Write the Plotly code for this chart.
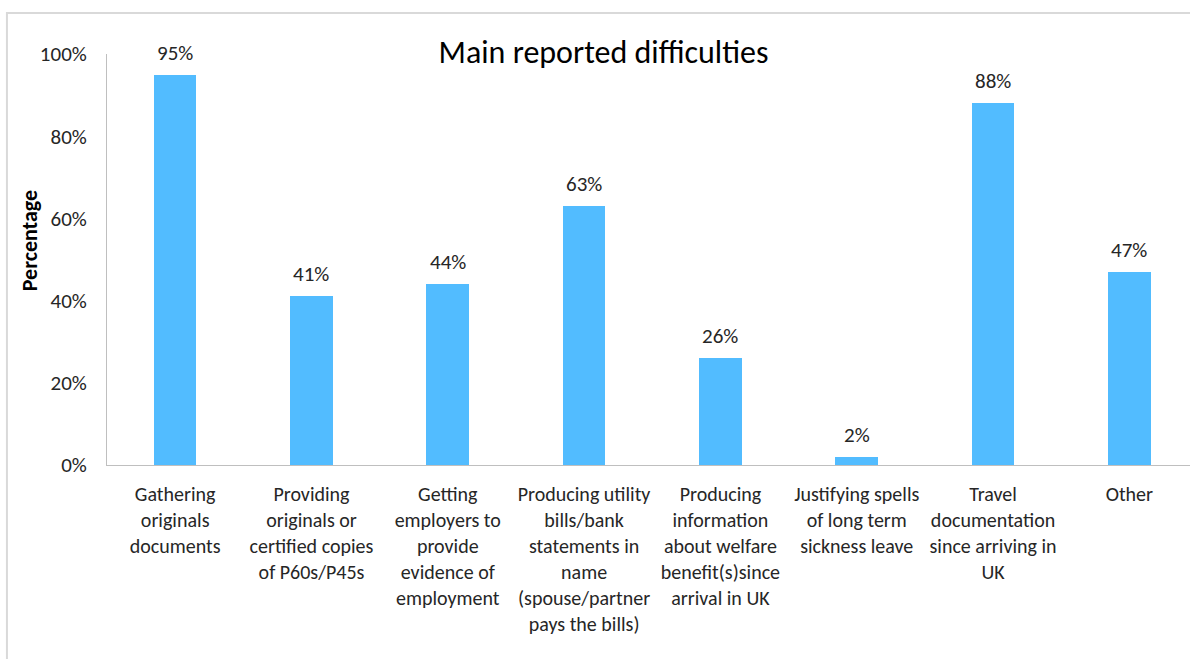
import plotly.graph_objects as go

categories = [
    "Gathering<br>originals<br>documents",
    "Providing<br>originals or<br>certified copies<br>of P60s/P45s",
    "Getting<br>employers to<br>provide<br>evidence of<br>employment",
    "Producing utility<br>bills/bank<br>statements in<br>name<br>(spouse/partner<br>pays the bills)",
    "Producing<br>information<br>about welfare<br>benefit(s)since<br>arrival in UK",
    "Justifying spells<br>of long term<br>sickness leave",
    "Travel<br>documentation<br>since arriving in<br>UK",
    "Other",
]
percentages = [95, 41, 44, 63, 26, 2, 88, 47]
y_ticks = [0, 20, 40, 60, 80, 100]
y_tick_text = ["0%", "20%", "40%", "60%", "80%", "100%"]

FONT = "Calibri, Carlito, Lato, sans-serif"
BAR_COLOR = "#52BCFF"

idx = list(range(len(categories)))

fig = go.Figure(
    go.Bar(
        x=idx,
        y=percentages,
        width=0.313,
        marker=dict(color=BAR_COLOR, line=dict(width=0)),
        hoverinfo="skip",
    )
)

# value labels above each bar
for i, v in zip(idx, percentages):
    fig.add_annotation(
        x=i, y=v, xref="x", yref="y",
        text=f"{v}%", showarrow=False,
        yanchor="middle", yshift=22,
        font=dict(family=FONT, size=21, color="#262626"),
    )

# rotated y-axis title
fig.add_annotation(
    x=-0.072, y=0.5445, xref="paper", yref="paper",
    text="<b>Percentage</b>", showarrow=False, textangle=-90,
    xanchor="center", yanchor="middle",
    font=dict(family=FONT, size=22, color="#000000"),
)

# outer chart frame (left and top edges visible)
fig.add_shape(
    type="rect", xref="paper", yref="paper",
    x0=-0.0924, x1=1.05, y0=-0.5, y1=1.1,
    line=dict(color="#d9d9d9", width=2), fillcolor="rgba(0,0,0,0)", layer="below",
)

fig.update_layout(
    width=1190, height=659,
    margin=dict(l=107, r=0, t=54, b=193.5),
    paper_bgcolor="white", plot_bgcolor="white",
    showlegend=False,
    bargap=0,
    title=dict(
        text="Main reported difficulties",
        x=603.5 / 1190, xanchor="center",
        y=1 - 52 / 659, yanchor="middle", yref="container",
        font=dict(family=FONT, size=32, color="#000000"),
    ),
    xaxis=dict(
        tickmode="array", tickvals=idx, ticktext=categories,
        range=[-0.5, 7.445],
        showline=True, linecolor="#bfbfbf", linewidth=1,
        showgrid=False, zeroline=False, ticks="",
        tickangle=0,
        tickfont=dict(family=FONT, size=20, color="#262626"),
        ticklabelstandoff=11,
        fixedrange=True,
    ),
    yaxis=dict(
        range=[0, 100],
        tickmode="array", tickvals=y_ticks, ticktext=y_tick_text,
        showline=True, linecolor="#bfbfbf", linewidth=1,
        showgrid=False, zeroline=False, ticks="",
        tickfont=dict(family=FONT, size=21, color="#262626"),
        ticklabelstandoff=15,
        fixedrange=True,
    ),
)

fig.write_html("out.html")
